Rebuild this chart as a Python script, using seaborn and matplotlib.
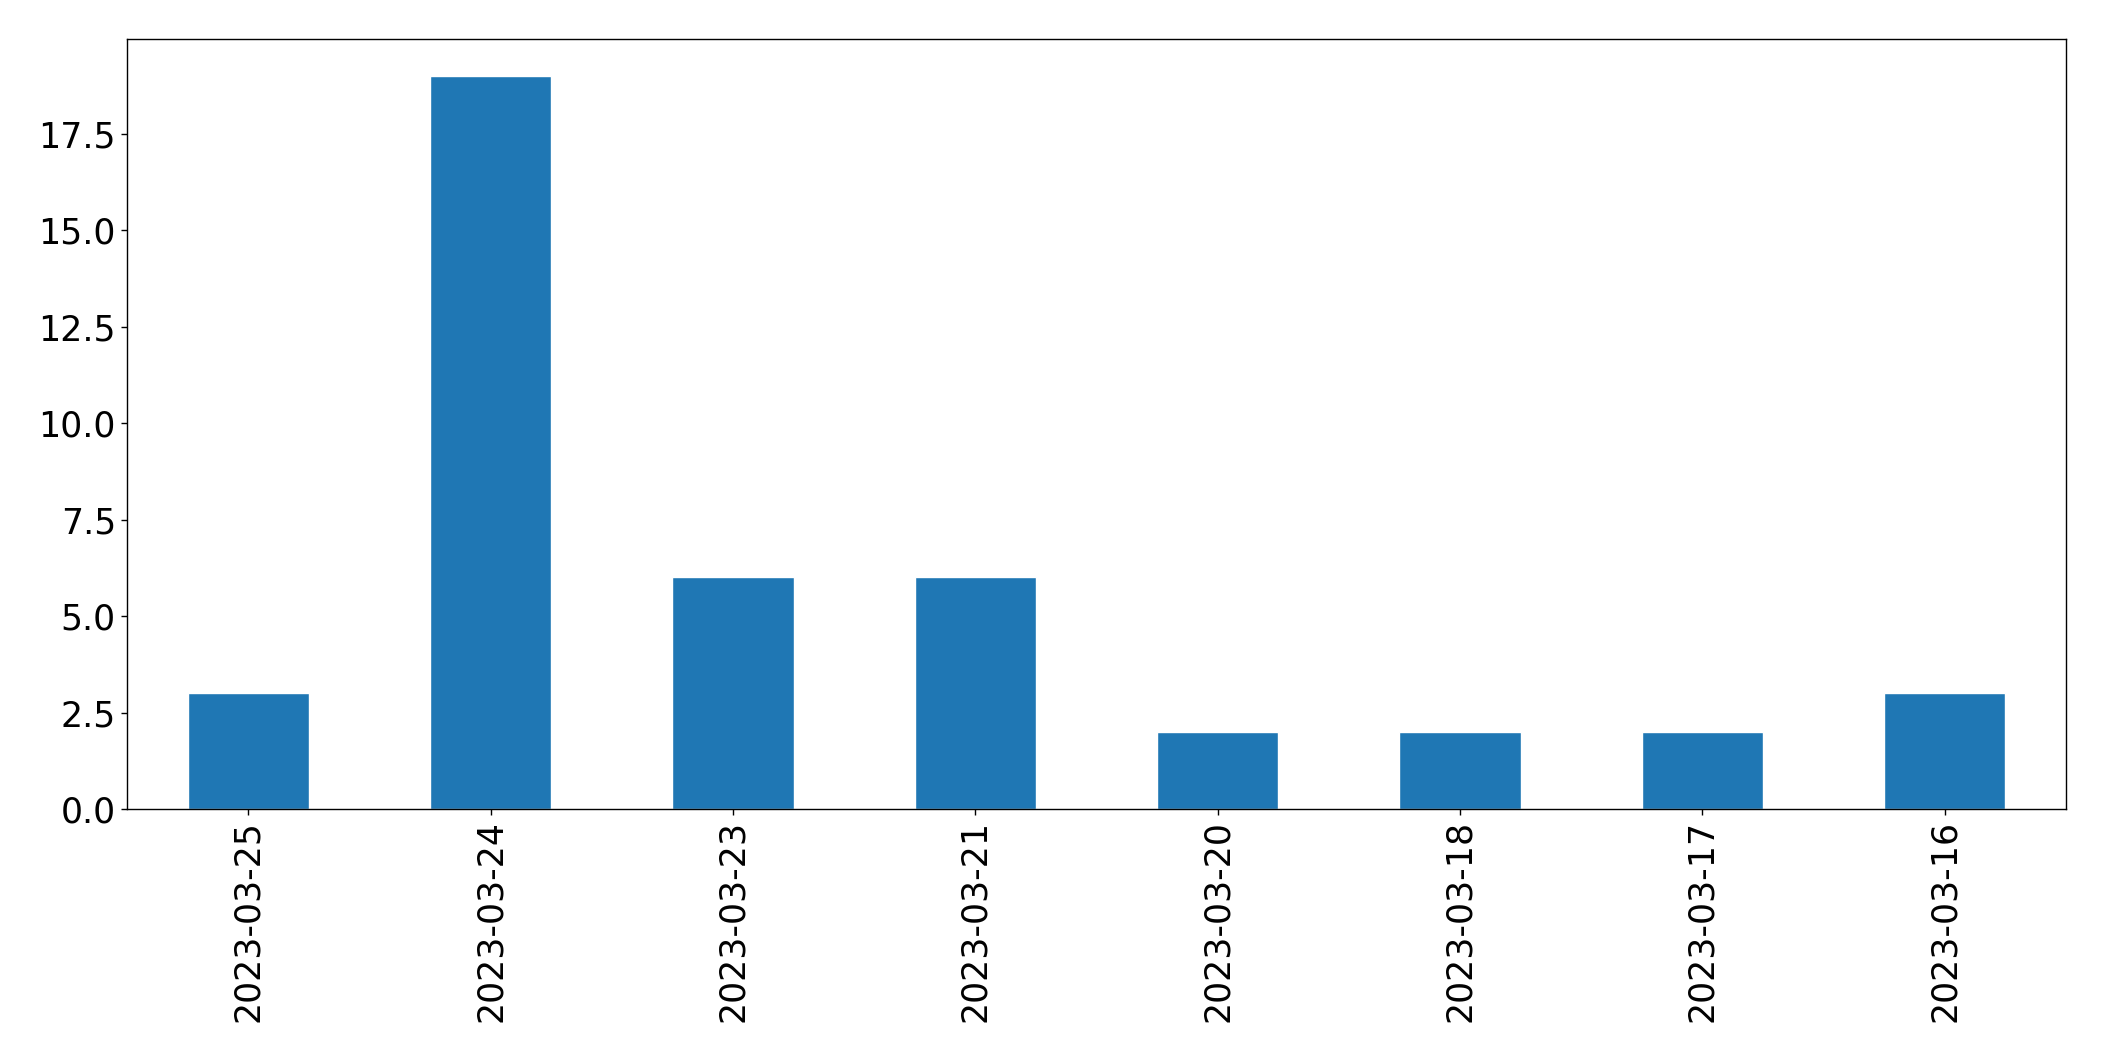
import pandas as pd
import seaborn as sns
import matplotlib.pyplot as plt

## datos
fechas = ['2023-03-25', '2023-03-24', '2023-03-23', '2023-03-21',
          '2023-03-20', '2023-03-18', '2023-03-17', '2023-03-16']
cuentas = [3, 19, 6, 6, 2, 2, 2, 3]

df = pd.DataFrame({'FECHA': fechas, 'CUENTA': cuentas})

sns.set_style("ticks")
plt.rcParams['font.family'] = ['DejaVu Sans']
plt.rcParams['xtick.color'] = 'black'
plt.rcParams['ytick.color'] = 'black'
plt.rcParams['text.color'] = 'black'

fig = plt.figure(figsize=(21.04, 10.61), dpi=100)
ax = fig.add_axes([127 / 2104, 1 - 809 / 1061, 1939 / 2104, 770 / 1061])

sns.barplot(data=df, x='FECHA', y='CUENTA', ax=ax, color='#1f77b4',
            saturation=1, width=0.5)
ax.set_xlim(-0.5, len(fechas) - 0.5)
ax.set_ylim(0, max(cuentas) * 1.05)
ax.set_xlabel('')
ax.set_ylabel('')
ax.tick_params(axis='both', labelsize=25, length=4.5, width=1,
               color='black', labelcolor='black')
ax.tick_params(axis='x', labelrotation=90)
for s in ax.spines.values():
    s.set_visible(True)
    s.set_color('black')
    s.set_linewidth(1)

fig.savefig('out.png', dpi=100)
